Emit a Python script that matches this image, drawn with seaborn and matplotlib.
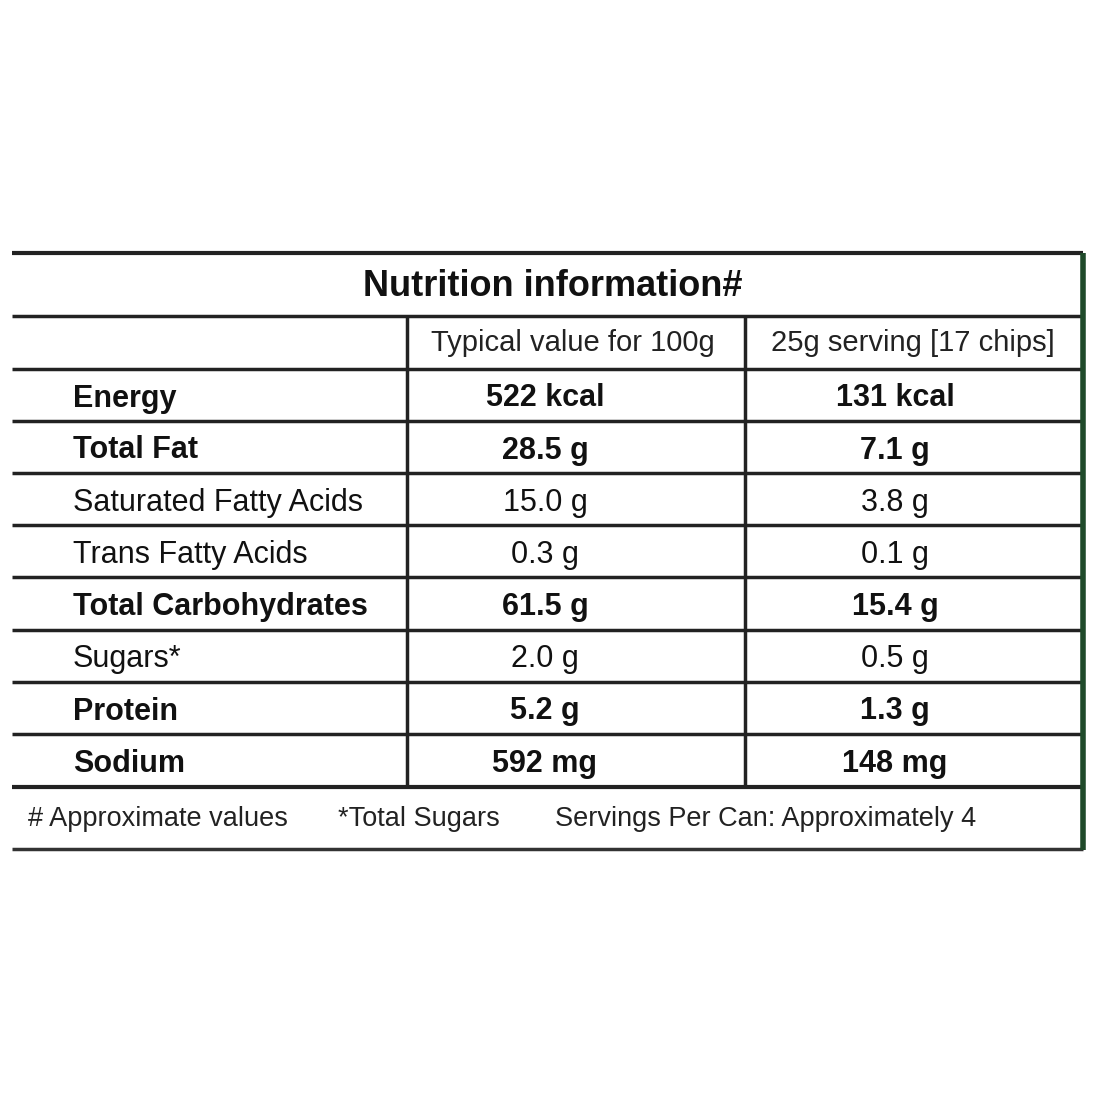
import matplotlib
matplotlib.use("Agg")
import matplotlib.pyplot as plt
import seaborn as sns

sns.set_style("white")
FAM = ['Liberation Sans Narrow', 'Liberation Sans', 'DejaVu Sans']
plt.rcParams['font.family'] = FAM

title = "Nutrition information#"
headers = ["Typical value for 100g", "25g serving [17 chips]"]
nutrients = ["Energy", "Total Fat", "Saturated Fatty Acids", "Trans Fatty Acids",
             "Total Carbohydrates", "Sugars*", "Protein", "Sodium"]
per100 = ["522 kcal", "28.5 g", "15.0 g", "0.3 g", "61.5 g", "2.0 g", "5.2 g", "592 mg"]
serving = ["131 kcal", "7.1 g", "3.8 g", "0.1 g", "15.4 g", "0.5 g", "1.3 g", "148 mg"]
bold = [True, True, False, False, True, False, True, True]
footer = ["# Approximate values", "*Total Sugars", "Servings Per Can: Approximately 4"]

fig = plt.figure(figsize=(11, 11), dpi=100)
ax = fig.add_axes([0, 0, 1, 1])
ax.set_xlim(0, 1100); ax.set_ylim(1100, 0); ax.axis("off")

L, R = 12, 1083
c1, c2 = 407, 745
rows = [369, 421, 473, 525, 577, 630, 682, 734, 787]
ax.hlines(253, L, R, color="#222", lw=3)
ax.hlines(316, L, R, color="#222", lw=2.5)
for y in rows[:-1]:
    ax.hlines(y, L, R, color="#222", lw=2.5)
ax.hlines(787, L, R, color="#222", lw=3)
ax.hlines(849, L, R, color="#333", lw=2.5)
ax.vlines([c1, c2], 316, 787, color="#222", lw=2.5)
ax.vlines(R, 253, 850, color="#1f4a2a", lw=4)

ax.text(553, 287, title, ha="center", va="center", fontsize=26, fontweight="bold", color="#111")
ax.text(573, 343, headers[0], ha="center", va="center", fontsize=21, color="#222")
ax.text(913, 343, headers[1], ha="center", va="center", fontsize=21, color="#222")
for i, (n, a, b, bd) in enumerate(zip(nutrients, per100, serving, bold)):
    yc = (rows[i] + rows[i + 1]) / 2
    w = "bold" if bd else "normal"
    ax.text(73, yc, n, ha="left", va="center_baseline", fontsize=22, fontweight=w, color="#111")
    ax.text(545, yc, a, ha="center", va="center_baseline", fontsize=22, fontweight=w, color="#111")
    ax.text(895, yc, b, ha="center", va="center_baseline", fontsize=22, fontweight=w, color="#111")
ax.text(28, 816, footer[0], ha="left", va="center_baseline", fontsize=19.5, color="#222")
ax.text(338, 816, footer[1], ha="left", va="center_baseline", fontsize=19.5, color="#222")
ax.text(555, 816, footer[2], ha="left", va="center_baseline", fontsize=19.5, color="#222")

fig.savefig("out.png", dpi=100, facecolor="white")
